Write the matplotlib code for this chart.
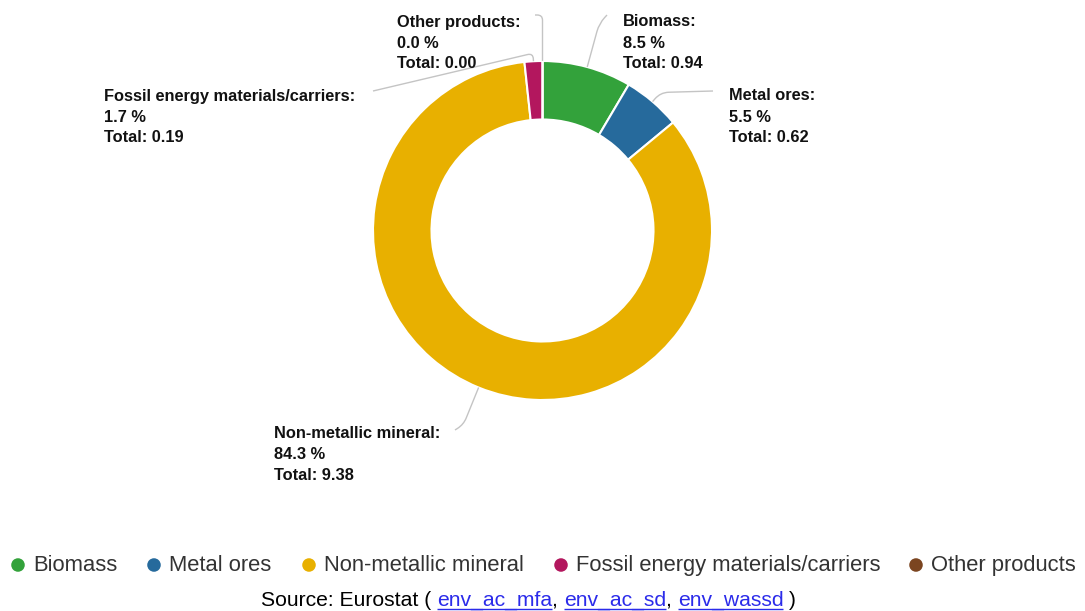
import matplotlib
matplotlib.use("Agg")
import matplotlib.pyplot as plt
import numpy as np
from matplotlib.path import Path
from matplotlib.patches import PathPatch
from matplotlib.font_manager import FontProperties

plt.rcParams['font.family'] = ['Liberation Sans', 'DejaVu Sans']

# ---------------- data ----------------
categories = ["Biomass", "Metal ores", "Non-metallic mineral",
              "Fossil energy materials/carriers", "Other products"]
shares = [8.5, 5.5, 84.3, 1.7, 0.0]          # percent
totals = [0.94, 0.62, 9.38, 0.19, 0.00]
colors = ["#33a23b", "#266a9c", "#e8b000", "#b3175e", "#7b4520"]
source_parts = [("Source: Eurostat ( ", False), ("env_ac_mfa", True), (", ", False),
                ("env_ac_sd", True), (", ", False), ("env_wassd", True), (" )", False)]

# ---------------- layout ----------------
W, H = 1085, 611
fig = plt.figure(figsize=(W / 100, H / 100), dpi=100)
ax = fig.add_axes([0, 0, 1, 1])

cx, cy = 542.5, H - 230.5
R, R_in = 169.5, 111.0

wedges, _ = ax.pie(shares, colors=colors, startangle=90, counterclock=False,
                   radius=R, center=(cx, cy),
                   wedgeprops=dict(width=R - R_in, edgecolor="white", linewidth=1.5))
ax.set_xlim(0, W)
ax.set_ylim(0, H)
ax.set_aspect("equal")
ax.axis("off")

# label layout in pixel coords (x, top y), leader radial extension, leader end
label_layout = {
    "Biomass": dict(tx=623, ty=14.5, ext=45, end=(607, 15)),
    "Metal ores": dict(tx=729, ty=88.5, ext=12, end=(713, 91)),
    "Non-metallic mineral": dict(tx=274, ty=426, ext=40, end=(455, 430)),
    "Fossil energy materials/carriers": dict(tx=104, ty=88.5, ext=8, end=(373, 91)),
    "Other products": dict(tx=397, ty=14.5, ext=46, end=(535, 15)),
}

lab_fs = 11.8
for w, cat, sh, tot in zip(wedges, categories, shares, totals):
    L = label_layout[cat]
    mid = np.deg2rad((w.theta1 + w.theta2) / 2)
    u = np.array([np.cos(mid), np.sin(mid)])
    c = np.array([w.center[0], w.center[1]])
    p0 = c + w.r * u
    p1 = c + (w.r + L["ext"]) * u
    p2 = np.array([L["end"][0], H - L["end"][1]])
    # rounded corner at p1
    d01 = np.linalg.norm(p1 - p0)
    d12 = np.linalg.norm(p2 - p1)
    k = min(14.0, 0.7 * d01, 0.7 * d12)
    a = p1 - (p1 - p0) / d01 * k
    b = p1 + (p2 - p1) / d12 * k
    path = Path([p0, a, p1, b, p2],
                [Path.MOVETO, Path.LINETO, Path.CURVE3, Path.CURVE3, Path.LINETO])
    ax.add_patch(PathPatch(path, fill=False, edgecolor="#c4c4c4", linewidth=1.0, zorder=1))
    txt = f"{cat}:\n{sh:.1f} %\nTotal: {tot:.2f}"
    ax.text(L["tx"], H - L["ty"], txt, ha="left", va="top", fontsize=lab_fs,
            fontweight="bold", color="#111111", linespacing=1.5)

# ---------------- legend ----------------
leg_fs = 15.8
leg_marker_x = [18, 154, 309, 561, 916]
leg_y = 565
for mx, cat, col in zip(leg_marker_x, categories, colors):
    ax.scatter([mx], [H - leg_y], s=95, color=col, edgecolors="none", zorder=3)
    ax.text(mx + 15, H - 571, cat, ha="left", va="baseline", fontsize=leg_fs, color="#333333")

# ---------------- source line ----------------
src_fs = 15.2
renderer = fig.canvas.get_renderer()
prop = FontProperties(family=['Liberation Sans', 'DejaVu Sans'], size=src_fs)


def width(s):
    w_, h_, d_ = renderer.get_text_width_height_descent(s, prop, ismath=False)
    return w_


def adv(s):
    return width(s + "|") - width("|")


full = "".join(p for p, _ in source_parts)
total_w = width(full)
x0 = 528.5 - total_w / 2
src_base = H - 606
link_color = "#2b2bea"
x = x0
for s, is_link in source_parts:
    col = link_color if is_link else "#000000"
    ax.text(x, src_base, s, ha="left", va="baseline", fontsize=src_fs, color=col)
    if is_link:
        ax.plot([x, x + width(s)], [src_base - 2.5, src_base - 2.5], color=link_color,
                linewidth=1.0, solid_capstyle="butt")
    x += adv(s)

fig.savefig("out.png", dpi=100)
